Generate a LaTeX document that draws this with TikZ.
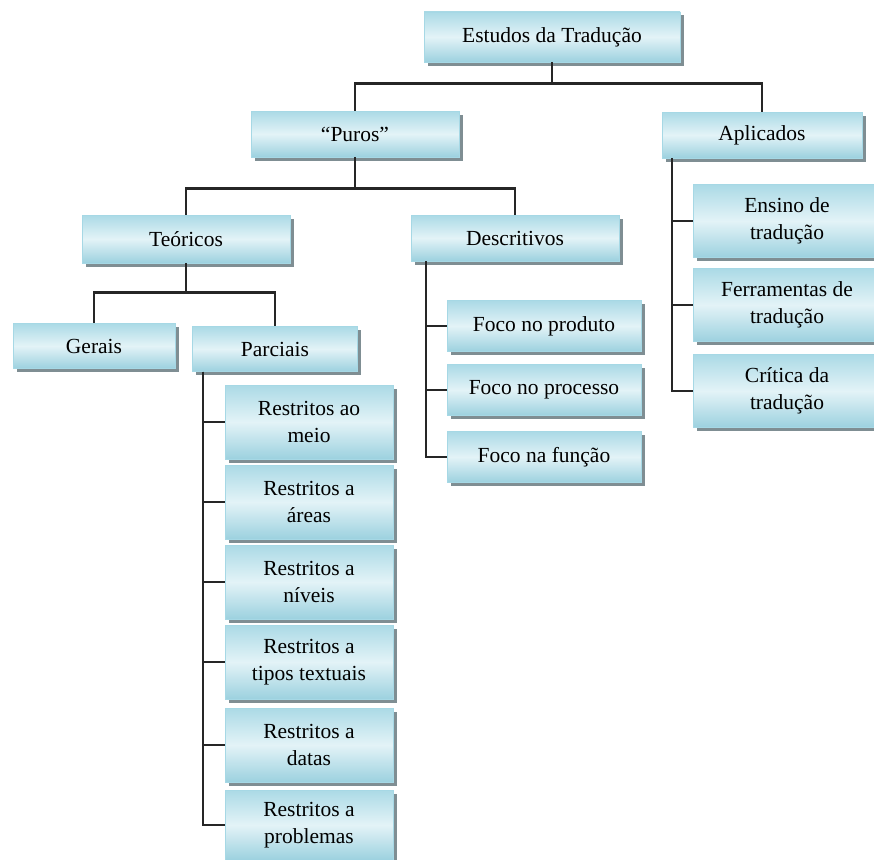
\documentclass[tikz,border=0pt]{standalone}
\usepackage{fontspec}
\setmainfont{Liberation Serif}
\usetikzlibrary{shadows}
\definecolor{boxtop}{HTML}{ABDAE6}
\definecolor{boxmid}{HTML}{E3F3F7}
\definecolor{boxbot}{HTML}{9CD1DF}
\definecolor{boxline}{HTML}{A6D8E5}
\definecolor{boxshadow}{HTML}{7F8E93}
\tikzset{
  box/.style={rectangle, draw=boxline, line width=0.8pt, top color=boxtop, bottom color=boxbot, middle color=boxmid, align=center, inner sep=2pt, text=black, font=\fontsize{21.5}{26.5}\selectfont, drop shadow={shadow xshift=3.5pt, shadow yshift=-3.5pt, fill=boxshadow, opacity=1}},
  link/.style={draw=black!85, line width=2.2pt}
}

\begin{document}
\begin{tikzpicture}[x=1pt, y=-1pt]
\useasboundingbox (0,0) rectangle (874,859);
% Nodes
\node[box, minimum width=256pt, minimum height=50pt] (est) at (552,37) {Estudos da Tradução};
\node[box, minimum width=208pt, minimum height=46pt] (puros) at (355,134) {“Puros”};
\node[box, minimum width=200pt, minimum height=46pt] (apl) at (762,135) {Aplicados};
\node[box, minimum width=208pt, minimum height=48pt] (teo) at (186,239) {Teóricos};
\node[box, minimum width=208pt, minimum height=46pt] (desc) at (515,238) {Descritivos};
\node[box, minimum width=162pt, minimum height=45pt] (ger) at (94,346) {Gerais};
\node[box, minimum width=165pt, minimum height=45pt] (parc) at (275,349) {Parciais};

\node[box, minimum width=168pt, minimum height=74pt] (r1) at (309,422) {Restritos ao\\meio};
\node[box, minimum width=168pt, minimum height=74pt] (r2) at (309,502) {Restritos a\\áreas};
\node[box, minimum width=168pt, minimum height=74pt] (r3) at (309,582) {Restritos a\\níveis};
\node[box, minimum width=168pt, minimum height=74pt] (r4) at (309,662) {Restritos a\\tipos textuais};
\node[box, minimum width=168pt, minimum height=74pt] (r5) at (309,745) {Restritos a\\datas};
\node[box, minimum width=168pt, minimum height=70pt] (r6) at (309,825) {Restritos a\\problemas};

\node[box, minimum width=194pt, minimum height=51pt] (f1) at (544,326) {Foco no produto};
\node[box, minimum width=194pt, minimum height=51pt] (f2) at (544,390) {Foco no processo};
\node[box, minimum width=194pt, minimum height=51pt] (f3) at (544,457) {Foco na função};

\node[box, minimum width=188pt, minimum height=73pt] (a1) at (787,221) {Ensino de\\tradução};
\node[box, minimum width=188pt, minimum height=73pt] (a2) at (787,305) {Ferramentas de\\tradução};
\node[box, minimum width=188pt, minimum height=73pt] (a3) at (787,391) {Crítica da\\tradução};

% Links
\draw[link] (est.south) -- ++(0,21) -| (puros.north);
\draw[link] (est.south) -- ++(0,21) -| (apl.north);
\draw[link] (puros.south) -- ++(0,31) -| (teo.north);
\draw[link] (puros.south) -- ++(0,31) -| (desc.north);
\draw[link] (teo.south) -- ++(0,29) -| (ger.north);
\draw[link] (teo.south) -- ++(0,29) -| (parc.north);
\foreach \n in {r1,r2,r3,r4,r5,r6}
  \draw[link] ([xshift=11pt]parc.south west) |- (\n.west);
\foreach \n in {f1,f2,f3}
  \draw[link] ([xshift=15pt]desc.south west) |- (\n.west);
\foreach \n in {a1,a2,a3}
  \draw[link] ([xshift=10pt]apl.south west) |- (\n.west);
\end{tikzpicture}
\end{document}
